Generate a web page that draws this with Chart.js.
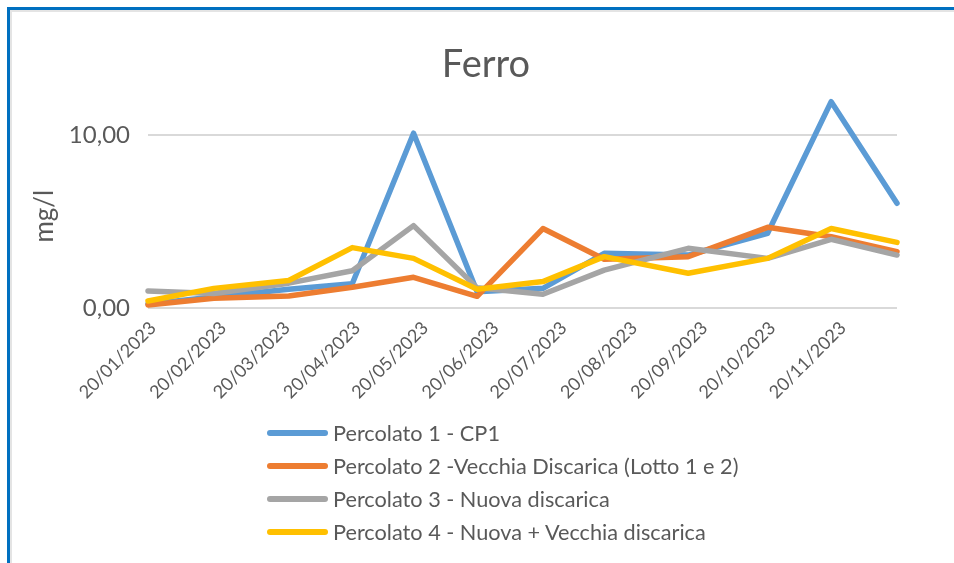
<!DOCTYPE html>
<html>
<head>
<meta charset="utf-8">
<script src="https://cdn.jsdelivr.net/npm/chart.js@4/dist/chart.umd.min.js"></script>
<style>
html,body{margin:0;padding:0;background:#fff;}
#wrap{position:relative;width:954px;height:563px;overflow:hidden;background:#fff;}
#frame{position:absolute;left:7px;top:7px;right:-20px;bottom:-20px;border-top:3px solid #0070c0;border-left:3px solid #0070c0;}
#inner{position:absolute;left:10px;top:10px;right:-20px;bottom:-20px;border-top:2px solid #e4e4e4;border-left:2px solid #e4e4e4;}
#c{position:absolute;left:0;top:0;}
#title{position:absolute;left:386px;width:200px;top:38px;text-align:center;font-family:Lato, "Open Sans", sans-serif;font-size:38px;line-height:48px;color:#595959;}
#legend{position:absolute;left:267px;top:416px;font-family:Lato, "Open Sans", sans-serif;font-size:21.7px;color:#595959;}
.item{height:33px;display:flex;align-items:center;white-space:nowrap;}
.swatch{width:61px;height:6px;border-radius:3px;margin-right:5px;flex:none;}
</style>
</head>
<body>
<div id="wrap">
  <div id="frame"></div>
  <div id="inner"></div>
  <canvas id="c" width="954" height="563"></canvas>
  <div id="title"></div>
  <div id="legend"></div>
</div>
<script>
// ---- Data ----
const chartTitle = 'Ferro';
const sampleDates = ['2023-01-20','2023-02-18','2023-03-23','2023-04-20','2023-05-17','2023-06-14','2023-07-13','2023-08-09','2023-09-15','2023-10-20','2023-11-17','2023-12-16'];
const percolato1 = [0.25, 0.65, 1.10, 1.42, 10.10, 0.96, 1.15, 3.17, 3.07, 4.33, 11.92, 6.06];
const percolato2 = [0.19, 0.58, 0.71, 1.21, 1.79, 0.69, 4.60, 2.83, 2.98, 4.67, 4.13, 3.27];
const percolato3 = [1.00, 0.85, 1.45, 2.17, 4.77, 1.18, 0.81, 2.20, 3.46, 2.88, 3.98, 3.07];
const percolato4 = [0.42, 1.15, 1.60, 3.50, 2.88, 1.10, 1.54, 2.98, 2.02, 2.88, 4.60, 3.80];
const seriesNames = ['Percolato 1 - CP1','Percolato 2 -Vecchia Discarica (Lotto 1 e 2)','Percolato 3 - Nuova discarica','Percolato 4 - Nuova + Vecchia discarica'];
const seriesColors = ['#5B9BD5','#ED7D31','#A5A5A5','#FFC000'];
const xTickLabels = ['20/01/2023','20/02/2023','20/03/2023','20/04/2023','20/05/2023','20/06/2023','20/07/2023','20/08/2023','20/09/2023','20/10/2023','20/11/2023'];
const yTickValues = [0, 10];
const yTickLabels = ['0,00','10,00'];
const yAxisTitle = 'mg/l';

// ---- helpers ----
const dayOfIso = s => { const [y,m,d] = s.split('-').map(Number); return Date.UTC(y, m-1, d) / 86400000; };
const dayOfLabel = s => { const [d,m,y] = s.split('/').map(Number); return Date.UTC(y, m-1, d) / 86400000; };
const day0 = dayOfIso(sampleDates[0]);
const sampleX = sampleDates.map(s => dayOfIso(s) - day0);
const tickX = xTickLabels.map(s => dayOfLabel(s) - day0);
const allSeries = [percolato1, percolato2, percolato3, percolato4];

const FONT = 'Lato, "Open Sans", sans-serif';
const TXT = '#595959';

const datasets = allSeries.map((vals, i) => ({
  label: seriesNames[i],
  data: vals.map((v, k) => ({x: sampleX[k], y: v})),
  borderColor: seriesColors[i],
  backgroundColor: seriesColors[i],
  borderWidth: 5.5,
  pointRadius: 0,
  pointHoverRadius: 0,
  tension: 0,
  fill: false,
  borderCapStyle: 'round',
  borderJoinStyle: 'round',
  clip: false,
  order: allSeries.length - i
}));

document.getElementById('title').textContent = chartTitle;

new Chart(document.getElementById('c'), {
  type: 'line',
  data: { datasets },
  options: {
    responsive: false,
    animation: false,
    events: [],
    layout: { padding: { left: 0, right: 57, top: 124, bottom: 154.7 } },
    plugins: {
      legend: { display: false },
      tooltip: { enabled: false },
      title: { display: false }
    },
    scales: {
      x: {
        type: 'linear',
        min: 0,
        max: sampleX[sampleX.length - 1],
        grid: { display: false, drawTicks: false },
        border: { display: false },
        afterBuildTicks: s => { s.ticks = tickX.map(v => ({ value: v })); },
        afterFit: s => { s.height = 100; },
        ticks: {
          autoSkip: false,
          minRotation: 45,
          maxRotation: 45,
          padding: 9,
          labelOffset: 5,
          color: TXT,
          font: { family: FONT, size: 18 },
          callback: (v, i) => xTickLabels[i]
        }
      },
      y: {
        min: 0,
        max: 10.63,
        grid: { color: '#d9d9d9', lineWidth: 2, drawTicks: false },
        border: { display: false },
        afterBuildTicks: s => { s.ticks = yTickValues.map(v => ({ value: v })); },
        afterFit: s => { s.width = 148; },
        ticks: {
          padding: 18,
          color: TXT,
          font: { family: FONT, size: 24 },
          callback: (v, i) => yTickLabels[i]
        },
        title: {
          display: true,
          text: yAxisTitle,
          color: TXT,
          font: { family: FONT, size: 26 },
          padding: { top: 29, bottom: 0 }
        }
      }
    }
  }
});

// HTML legend built from the series
const lg = document.getElementById('legend');
seriesNames.forEach((n, i) => {
  const row = document.createElement('div');
  row.className = 'item';
  const sw = document.createElement('span');
  sw.className = 'swatch';
  sw.style.background = seriesColors[i];
  const tx = document.createElement('span');
  tx.textContent = n;
  row.appendChild(sw); row.appendChild(tx);
  lg.appendChild(row);
});
</script>
</body>
</html>
